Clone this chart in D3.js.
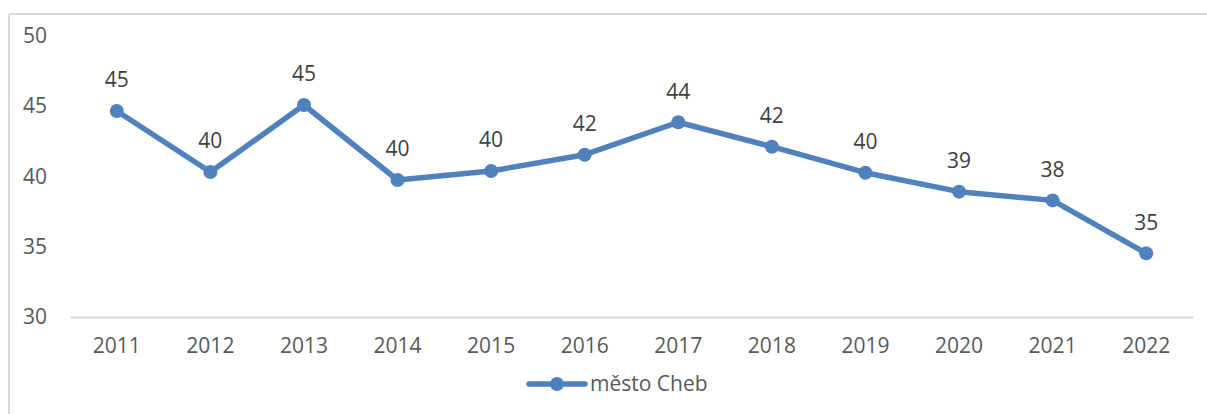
<!DOCTYPE html>
<html>
<head>
<meta charset="utf-8">
<script src="https://cdn.jsdelivr.net/npm/d3@7"></script>
<style>
  html, body { margin: 0; padding: 0; background: #fff; }
  svg { display: block; font-family: "Open Sans", "Noto Sans", sans-serif; }
</style>
</head>
<body>
<div id="chart"></div>
<script>
// Data
const years = ["2011", "2012", "2013", "2014", "2015", "2016", "2017", "2018", "2019", "2020", "2021", "2022"];
const values = [44.66, 40.32, 45.09, 39.75, 40.39, 41.55, 43.86, 42.12, 40.27, 38.92, 38.3, 34.53];
const yTicks = [30, 35, 40, 45, 50];
const seriesName = "město Cheb";

const width = 1207;
const height = 414;
const margin = { top: 36, right: 14, bottom: 97, left: 70 };
const color = "#4f81bd";
const fontSize = "21px";

const svg = d3
  .select("#chart")
  .append("svg")
  .attr("width", width)
  .attr("height", height);

// Chart frame (only top and left edges show in the crop)
svg.append("line")
  .attr("x1", 9).attr("x2", width)
  .attr("y1", 14).attr("y2", 14)
  .attr("stroke", "#d9d9d9").attr("stroke-width", 2);
svg.append("line")
  .attr("x1", 9).attr("x2", 9)
  .attr("y1", 14).attr("y2", height)
  .attr("stroke", "#d9d9d9").attr("stroke-width", 2);

// Scales
const x = d3
  .scaleBand()
  .domain(years)
  .range([margin.left, width - margin.right]);
const y = d3
  .scaleLinear()
  .domain([30, 50])
  .range([height - margin.bottom, margin.top]);

// Y axis labels
const gy = svg.append("g")
  .attr("transform", "translate(47,0)")
  .call(d3.axisLeft(y).tickValues(yTicks).tickSize(0).tickPadding(0))
  .call((g) => g.select(".domain").remove())
  .attr("font-size", null)
  .attr("font-family", null);
gy.selectAll("text")
  .attr("font-size", fontSize)
  .attr("fill", "#595959");

// X axis line + labels
const gx = svg.append("g")
  .attr("transform", `translate(0,${y(30)})`)
  .call(d3.axisBottom(x).tickSize(0).tickPadding(21))
  .attr("font-size", null)
  .attr("font-family", null);
gx.select(".domain").attr("stroke", "#d9d9d9").attr("stroke-width", 2);
gx.selectAll("text")
  .attr("font-size", fontSize)
  .attr("fill", "#595959");

const cx = (d, i) => x(years[i]) + x.bandwidth() / 2;

// Line
const line = d3.line()
  .x((d, i) => cx(d, i))
  .y((d) => y(d));
svg.append("path")
  .datum(values)
  .attr("fill", "none")
  .attr("stroke", color)
  .attr("stroke-width", 5.5)
  .attr("stroke-linejoin", "round")
  .attr("d", line);

// Markers
svg.append("g")
  .selectAll("circle")
  .data(values)
  .join("circle")
  .attr("cx", cx)
  .attr("cy", (d) => y(d))
  .attr("r", 7)
  .attr("fill", color);

// Data labels
svg.append("g")
  .selectAll("text")
  .data(values)
  .join("text")
  .attr("x", cx)
  .attr("y", (d) => y(d) - 31)
  .attr("dy", "0.35em")
  .attr("text-anchor", "middle")
  .attr("font-size", fontSize)
  .attr("fill", "#404040")
  .text((d) => d3.format(".0f")(d));

// Legend
const legend = svg.append("g").attr("transform", "translate(529,384)");
legend.append("line")
  .attr("x1", 0).attr("x2", 56)
  .attr("stroke", color)
  .attr("stroke-width", 5.5)
  .attr("stroke-linecap", "round");
legend.append("circle")
  .attr("cx", 28)
  .attr("r", 7)
  .attr("fill", color);
legend.append("text")
  .attr("x", 61)
  .attr("dy", "0.35em")
  .attr("font-size", fontSize)
  .attr("fill", "#595959")
  .text(seriesName);
</script>
</body>
</html>
